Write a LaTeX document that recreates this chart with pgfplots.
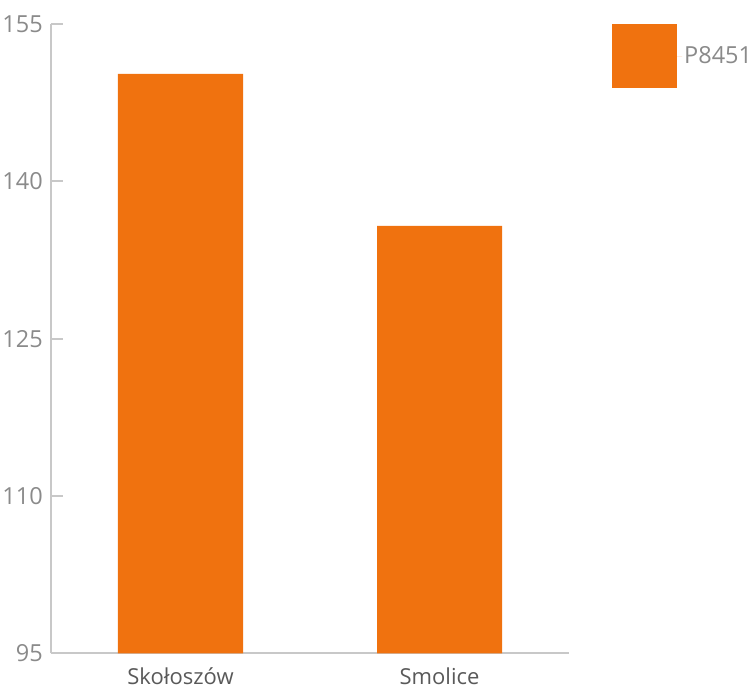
\documentclass[border=0pt]{standalone}
\usepackage{fontspec}
\setmainfont{Open Sans}
\usepackage{pgfplots}
\pgfplotsset{compat=1.18}
\definecolor{barorange}{HTML}{F0720F}
\definecolor{axgrey}{HTML}{C8C8C8}
\definecolor{tickgrey}{HTML}{8A8A8A}
\definecolor{labgrey}{HTML}{595959}
\begin{document}
\begin{tikzpicture}
\begin{axis}[
  scale only axis, width=518pt, height=629.5pt,
  xmin=-0.5, xmax=1.5, ymin=95, ymax=155,
  axis x line=bottom, axis y line=left,
  axis line style={axgrey, line width=2pt, -},
  xtick={0,1}, xticklabels={Skołoszów, Smolice},
  xtick style={draw=none},
  ytick={95,110,125,140,155},
  ytick style={axgrey, line width=2pt},
  tick align=inside, major tick length=12pt,
  /pgf/number format/assume math mode=true,
  yticklabel style={font=\fontsize{23.5}{23.5}\selectfont, text=tickgrey, inner sep=0pt, xshift=-8pt},
  xticklabel style={font=\fontsize{22}{22}\selectfont, text=labgrey, inner sep=0pt, yshift=-2pt},
  ybar, bar width=125pt,
  legend style={at={(1.083,1.0)}, anchor=north west, draw=none, inner sep=0pt,
    font=\fontsize{23.5}{23.5}\selectfont, text=tickgrey},
  legend image code/.code={\fill[barorange] (0pt,-32pt) rectangle (65pt,32pt); \path (0pt,0pt) -- (70pt,0pt);},
]
\addplot[fill=barorange, draw=none] coordinates {(0,150.25) (1,135.75)};
\addlegendentry{P8451}
\end{axis}
\path (current axis.south west) ++(-51pt,-36.5pt) rectangle ++(756pt,690pt);
\end{tikzpicture}
\end{document}
